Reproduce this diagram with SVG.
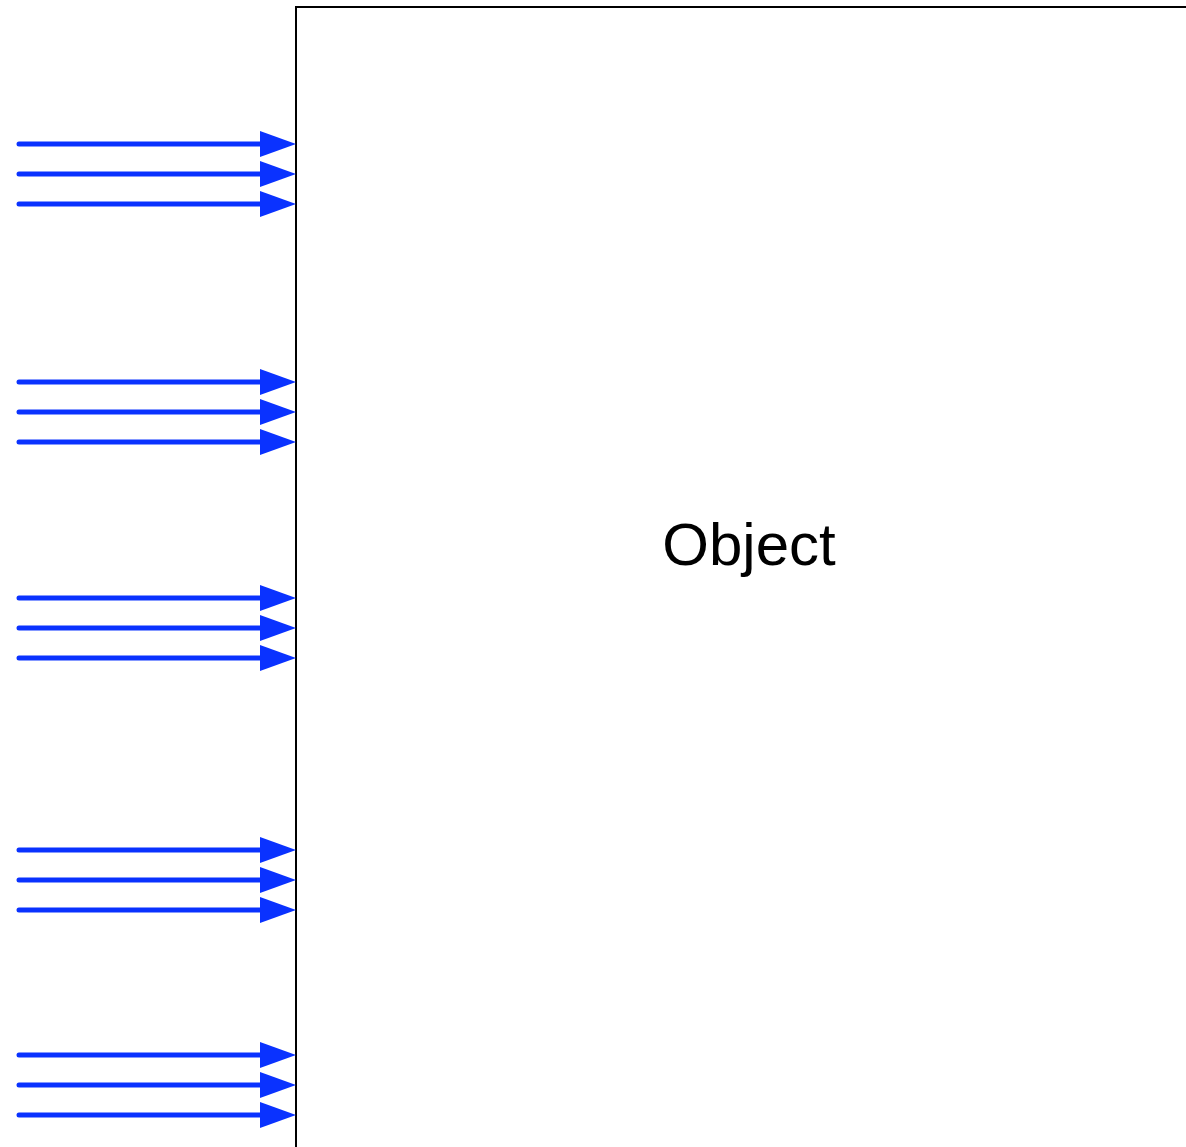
<svg xmlns="http://www.w3.org/2000/svg" width="1186" height="1147" viewBox="0 0 1186 1147">
  <style>
    .box { fill: #ffffff; stroke: #000000; stroke-width: 2; }
    .label { font-family: "Liberation Sans", Arial, sans-serif; font-size: 60px; fill: #000000; text-anchor: middle; }
    .flow { stroke: #0a32ff; stroke-width: 5; stroke-linecap: round; fill: none; }
    .head { fill: #0a32ff; }
  </style>
  <defs>
    <!-- one arrow: shaft plus filled triangular head, tip at the origin -->
    <g id="arrow">
      <line class="flow" x1="-277" y1="0" x2="-30" y2="0"/>
      <polygon class="head" points="0,0 -36,-13 -36,13"/>
    </g>
  </defs>
  <rect width="1186" height="1147" fill="#ffffff"/>

  <g id="object">
    <rect class="box" x="296" y="7" width="920" height="1160"/>
    <text class="label" x="749" y="565">Object</text>
  </g>

  <g id="connectors">
    <use href="#arrow" x="296" y="144"/>
    <use href="#arrow" x="296" y="174"/>
    <use href="#arrow" x="296" y="204"/>
    <use href="#arrow" x="296" y="382"/>
    <use href="#arrow" x="296" y="412"/>
    <use href="#arrow" x="296" y="442"/>
    <use href="#arrow" x="296" y="598"/>
    <use href="#arrow" x="296" y="628"/>
    <use href="#arrow" x="296" y="658"/>
    <use href="#arrow" x="296" y="850"/>
    <use href="#arrow" x="296" y="880"/>
    <use href="#arrow" x="296" y="910"/>
    <use href="#arrow" x="296" y="1055"/>
    <use href="#arrow" x="296" y="1085"/>
    <use href="#arrow" x="296" y="1115"/>
  </g>
</svg>
